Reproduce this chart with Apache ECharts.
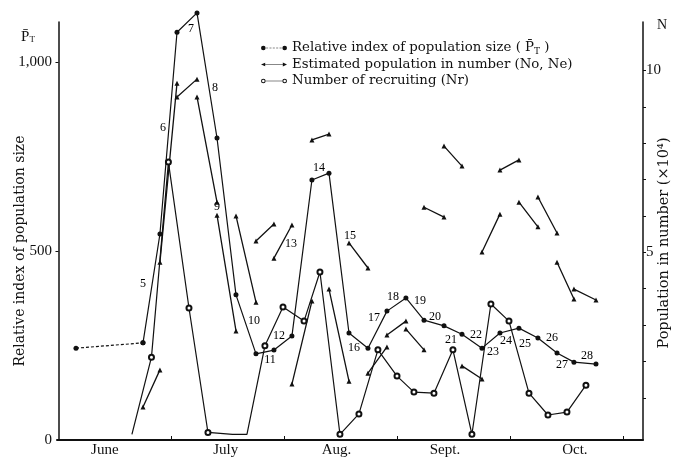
<!DOCTYPE html>
<html><head><meta charset="utf-8">
<script src="https://cdn.jsdelivr.net/npm/echarts@6/dist/echarts.min.js"></script>
<style>html,body{margin:0;padding:0;background:#fff}#c{width:673px;height:461px}</style>
</head><body><div id="c"></div>
<script>
// x values are in months counted from 1 June (1 = 1 July, 2 = 1 Aug., ...)
const monthNames = ['June', 'July', 'Aug.', 'Sept.', 'Oct.'];
const monthLabelPos = [0.41, 1.48, 2.46, 3.42, 4.57];
const monthBounds = [1, 2, 3, 4, 5];

// sampling occasions
const sampleDates = [0.155, 0.748, 0.898, 1.049, 1.226, 1.403, 1.571, 1.748, 1.907, 2.066, 2.243, 2.394, 2.571,
  2.739, 2.907, 3.075, 3.235, 3.412, 3.571, 3.748, 3.907, 4.075, 4.243, 4.412, 4.562, 4.757];
// relative index of population size (P_T), left axis
const relIndex = [243, 257, 545, 1079, 1130, 799, 384, 228, 238, 275, 688, 706, 283, 243, 341, 376, 317, 302,
  280, 243, 283, 296, 270, 230, 206, 201];
// estimated population (x10^4): No at start of interval, Ne at its end (intervals between occasions 2..26)
const estStart = [0.75, 4.73, 9.27, 9.27, 6.02, 6.00, 5.31, 4.84, 1.38, 8.09, 3.99, 5.26, 1.68, 2.73, 2.89,
  6.24, 7.92, 1.88, 5.01, 7.26, 6.38, 6.52, 4.73, 3.99];
const estEnd = [1.77, 9.65, 9.76, 6.38, 2.84, 3.63, 5.78, 5.75, 3.66, 8.25, 1.46, 4.57, 2.40, 3.11, 2.32,
  5.97, 7.37, 1.52, 6.05, 7.54, 5.70, 5.53, 3.72, 3.69];
// number of recruiting Nr (x10^4)
const recruitDates = [0.650, 0.823, 0.973, 1.155, 1.323, 1.54, 1.668, 1.827, 1.987, 2.173, 2.314, 2.491, 2.659,
  2.827, 2.996, 3.146, 3.323, 3.491, 3.659, 3.827, 3.987, 4.164, 4.332, 4.500, 4.668];
const recruitN = [0, 2.12, 7.48, 3.47, 0.05, 0, 0, 2.43, 3.50, 3.11, 4.46, 0, 0.56, 2.32, 1.60, 1.16, 1.13,
  2.32, 0, 3.58, 3.11, 1.13, 0.53, 0.61, 1.35];
const recruitUnmarked = [0, 5, 6];
// occasion numbers written on the chart: [x, P_T level, text]
const occasionLabels = [
  [0.748, 413, '5'], [0.925, 825, '6'], [1.173, 1087, '7'], [1.385, 931, '8'], [1.403, 616, '9'],
  [1.730, 315, '10'], [1.872, 212, '11'], [1.951, 275, '12'], [2.058, 519, '13'], [2.305, 720, '14'],
  [2.580, 540, '15'], [2.615, 243, '16'], [2.792, 323, '17'], [2.960, 378, '18'], [3.199, 368, '19'],
  [3.332, 325, '20'], [3.473, 265, '21'], [3.695, 278, '22'], [3.845, 233, '23'], [3.960, 262, '24'],
  [4.128, 254, '25'], [4.367, 270, '26'], [4.456, 198, '27'], [4.677, 222, '28']
];
const leftTickLabels = [0, 500, 1000];
const rightTicks = [1, 2, 3, 4, 5, 6, 7, 8, 9, 10];
const rightTickLabels = [5, 10];

const relName = 'Relative index of population size (P̄T)';
const estName = 'Estimated population in number (No, Ne)';
const recName = 'Number of recruiting (Nr)';

const FONT = '"Liberation Serif", "DejaVu Serif", serif';
const WIDE = '"DejaVu Serif", "Liberation Serif", serif';
const INK = '#111';

const relPts = sampleDates.map((d, i) => [d, relIndex[i]]);
const estData = [];
for (let i = 0; i < estStart.length; i++) {
  estData.push([sampleDates[i + 1], estStart[i]], [sampleDates[i + 2], estEnd[i]], [sampleDates[i + 2], '-']);
}
const recData = recruitDates.map((d, i) => recruitUnmarked.includes(i)
  ? { value: [d, recruitN[i]], symbol: 'none' } : [d, recruitN[i]]);

const iconRel = 'path://M0.5,3a2.5,2.5 0 1,0 5,0a2.5,2.5 0 1,0 -5,0Z' +
  'M6,2.6h2.2v0.8h-2.2Z M9.6,2.6h2.2v0.8h-2.2Z M13.2,2.6h2.2v0.8h-2.2Z M16.8,2.6h2.2v0.8h-2.2Z M20.4,2.6h2.4v0.8h-2.4Z' +
  'M23.5,3a2.5,2.5 0 1,0 5,0a2.5,2.5 0 1,0 -5,0Z';
const iconEst = 'path://M0.5,3L5,1L5,5Z M5,2.6h19v0.8h-19Z M24,0.8L28.5,3L24,5.2Z';
const iconRec = 'path://M0.5,3a2.5,2.5 0 1,0 5,0a2.5,2.5 0 1,0 -5,0Z M1.6,3a1.4,1.4 0 1,1 2.8,0a1.4,1.4 0 1,1 -2.8,0Z' +
  'M5.5,2.6h18v0.8h-18Z M23.5,3a2.5,2.5 0 1,0 5,0a2.5,2.5 0 1,0 -5,0Z M24.6,3a1.4,1.4 0 1,1 2.8,0a1.4,1.4 0 1,1 -2.8,0Z';

const chart = echarts.init(document.getElementById('c'), null, { renderer: 'canvas' });
chart.setOption({
  animation: false,
  backgroundColor: '#fff',
  textStyle: { fontFamily: FONT, color: INK },
  grid: { left: 57, right: 30, top: 22, bottom: 21, containLabel: false },
  legend: {
    orient: 'vertical', left: 256, top: 35, itemWidth: 26, itemHeight: 6, itemGap: 0.5,
    data: [{ name: relName, icon: iconRel }, { name: estName, icon: iconEst }, { name: recName, icon: iconRec }],
    textStyle: {
      fontFamily: WIDE, fontSize: 13.3, color: INK, lineHeight: 16,
      rich: { sub: { fontFamily: WIDE, fontSize: 9, verticalAlign: 'bottom', padding: [6, 0, 0, 0] } }
    },
    formatter: n => n === relName ? 'Relative index of population size ( P̄{sub|T} )' : n
  },
  xAxis: {
    type: 'value', min: -0.013, max: 5.173,
    axisLine: { show: true, lineStyle: { color: INK, width: 2 } },
    axisTick: { show: true, inside: true, length: 4, customValues: monthBounds, lineStyle: { color: INK } },
    axisLabel: {
      customValues: monthLabelPos, margin: 3, fontFamily: FONT, fontSize: 15, color: INK,
      formatter: v => monthNames[Math.floor(v)]
    },
    splitLine: { show: false }
  },
  yAxis: [{
    type: 'value', min: 0, max: 1106, position: 'left',
    axisLine: { show: true, lineStyle: { color: INK, width: 1.5 } },
    axisTick: { show: true, length: 3, customValues: [500, 1000], lineStyle: { color: INK } },
    axisLabel: {
      customValues: leftTickLabels, margin: 5, fontFamily: FONT, fontSize: 15, color: INK,
      formatter: v => v >= 1000 ? v.toLocaleString('en-US') : String(v)
    },
    splitLine: { show: false }
  }, {
    type: 'value', min: -0.157, max: 11.33, position: 'right',
    axisLine: { show: true, lineStyle: { color: INK, width: 1.5 } },
    axisTick: { show: true, length: 3, customValues: rightTicks, lineStyle: { color: INK } },
    axisLabel: { customValues: rightTickLabels, margin: 3, fontFamily: FONT, fontSize: 15, color: INK },
    splitLine: { show: false }
  }],
  series: [{
    name: relName, type: 'line', yAxisIndex: 0, clip: false, silent: true,
    data: relPts.slice(0, 2),
    symbol: 'circle', symbolSize: 5, itemStyle: { color: INK },
    lineStyle: { color: INK, width: 1.2, type: [3, 2] }
  }, {
    name: relName, type: 'line', yAxisIndex: 0, clip: false, silent: true,
    data: relPts.slice(1),
    symbol: 'circle', symbolSize: 5, itemStyle: { color: INK },
    lineStyle: { color: INK, width: 1.2 }, z: 4
  }, {
    name: estName, type: 'line', yAxisIndex: 1, clip: false, silent: true,
    data: estData, connectNulls: false,
    symbol: 'triangle', symbolSize: 5, itemStyle: { color: INK },
    lineStyle: { color: INK, width: 1.3 }, z: 3
  }, {
    name: recName, type: 'line', yAxisIndex: 1, clip: false, silent: true,
    data: recData,
    symbol: 'emptyCircle', symbolSize: 5, itemStyle: { color: INK, borderWidth: 1 },
    lineStyle: { color: INK, width: 1.2 }, z: 5
  }, {
    name: 'occasion', type: 'scatter', yAxisIndex: 0, clip: false, silent: true,
    data: occasionLabels, symbolSize: 0.01, itemStyle: { color: INK, opacity: 1 },
    label: {
      show: true, position: [0, 0], align: 'center', verticalAlign: 'middle', formatter: p => p.value[2],
      fontFamily: FONT, fontSize: 12, color: '#000', opacity: 1, textBorderWidth: 0
    }, z: 6
  }],
  graphic: [{
    type: 'text', x: 20, y: 251, rotation: Math.PI / 2,
    style: { text: 'Relative index of population size', font: '14px ' + WIDE, fill: INK, align: 'center', verticalAlign: 'middle' }
  }, {
    type: 'text', x: 664, y: 243, rotation: Math.PI / 2,
    style: { text: 'Population in number (×10⁴)', font: '14.5px ' + WIDE, fill: INK, align: 'center', verticalAlign: 'middle' }
  }, {
    type: 'text', x: 28, y: 37,
    style: {
      text: 'P̄{s|T}', font: '15px ' + FONT, fill: INK, align: 'center', verticalAlign: 'middle',
      rich: { s: { fontSize: 9, fontFamily: FONT, padding: [6, 0, 0, 0] } }
    }
  }, {
    type: 'text', x: 662, y: 25,
    style: { text: 'N', font: '14px ' + FONT, fill: INK, align: 'center', verticalAlign: 'middle' }
  }]
});
</script>
</body></html>
